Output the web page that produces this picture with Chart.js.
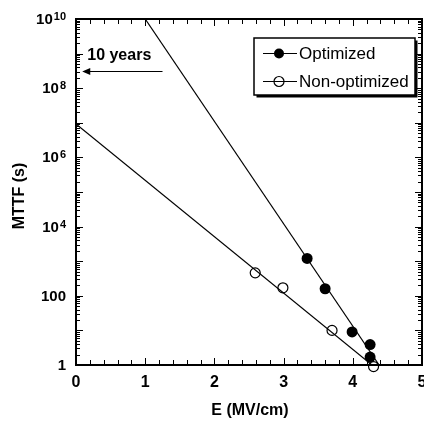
<!DOCTYPE html>
<html>
<head>
<meta charset="utf-8">
<script src="https://cdn.jsdelivr.net/npm/chart.js@4.4.1/dist/chart.umd.min.js"></script>
<style>
  html, body { margin: 0; padding: 0; background: #fff; overflow: hidden; }
  #wrap { width: 424px; height: 422px; position: relative; }
  canvas { display: block; }
</style>
</head>
<body>
<div id="wrap"><canvas id="mttf"></canvas></div>
<script>
// MTTF medido x campo elétrico (MV/cm)
const optE = [3.34, 3.60, 3.99, 4.25, 4.25];
const optMTTF = [1200, 160, 9, 3.9, 1.7];
const nonE = [2.59, 2.99, 3.70, 4.30];
const nonMTTF = [460, 170, 10, 0.9];

// extremos das retas de ajuste
const optFitE = [1.0, 4.38];
const optFitMTTF = [1e10, 1];
const nonFitE = [0, 4.4];
const nonFitMTTF = [9.3e6, 0.63];

// 10 anos em segundos, seta da marca
const tenYears = 3.156e8;
const arrowE = [1.25, 0.09];

const xTicks = [0, 1, 2, 3, 4, 5];
const yTicks = [1, 100, 1e4, 1e6, 1e8, 1e10];
const yTickBase = ['1', '100', '10', '10', '10', '10'];
const yTickExp = ['', '', '4', '6', '8', '10'];

const FONT = '"Liberation Sans", Arial, Helvetica, sans-serif';

function pares(xs, ys) {
    return xs.map((v, i) => ({ x: v, y: ys[i] }));
}

// moldura, ticks para dentro, rótulos com expoente, legenda e seta
const moldura = {
    id: 'moldura',
    afterDraw(chart) {
        const { ctx, chartArea: a } = chart;
        const x = chart.scales.x;
        const y = chart.scales.y;
        const linha = (x1, y1, x2, y2) => {
            ctx.beginPath();
            ctx.moveTo(x1, y1);
            ctx.lineTo(x2, y2);
            ctx.stroke();
        };

        ctx.save();
        ctx.strokeStyle = '#000';
        ctx.fillStyle = '#000';
        ctx.lineWidth = 1;

        // eixo y: décadas + subdivisões 2..9
        for (let d = 0; d <= 10; d++) {
            for (let k = 1; k <= 9; k++) {
                if (d === 10 && k > 1) break;
                const py = Math.round(y.getPixelForValue(k * Math.pow(10, d))) + 0.5;
                const len = k === 1 ? 7 : 4;
                linha(a.left, py, a.left + len, py);
                linha(a.right, py, a.right - len, py);
            }
        }
        // eixo x: a cada 0.2
        for (let i = 0; i <= 25; i++) {
            const px = Math.round(x.getPixelForValue(i * 0.2)) + 0.5;
            const len = i % 5 === 0 ? 7 : 5;
            linha(px, a.bottom, px, a.bottom - len);
            linha(px, a.top, px, a.top + len);
        }

        ctx.lineWidth = 2;
        ctx.strokeRect(a.left, a.top, a.right - a.left, a.bottom - a.top);

        // rótulos do eixo x
        ctx.font = `bold 16px ${FONT}`;
        ctx.textAlign = 'center';
        ctx.textBaseline = 'alphabetic';
        xTicks.forEach((v) => {
            ctx.fillText(String(v), x.getPixelForValue(v), a.bottom + 22);
        });

        // rótulos do eixo y (10 com expoente)
        yTicks.forEach((v, i) => {
            const py = y.getPixelForValue(v);
            const right = a.left - 10;
            ctx.textAlign = 'right';
            if (yTickExp[i]) {
                ctx.font = `bold 11px ${FONT}`;
                const w = ctx.measureText(yTickExp[i]).width;
                ctx.fillText(yTickExp[i], right, py + 1);
                ctx.font = `bold 15px ${FONT}`;
                ctx.fillText(yTickBase[i], right - w - 1, py + 5);
            } else {
                ctx.font = `bold 15px ${FONT}`;
                ctx.fillText(yTickBase[i], right, py + 5);
            }
        });

        // títulos dos eixos
        ctx.font = `bold 16px ${FONT}`;
        ctx.textAlign = 'center';
        ctx.fillText('E (MV/cm)', (a.left + a.right) / 2 + 1, a.bottom + 50);
        ctx.save();
        ctx.translate(24, (a.top + a.bottom) / 2 + 4);
        ctx.rotate(-Math.PI / 2);
        ctx.fillText('MTTF (s)', 0, 0);
        ctx.restore();

        // seta de 10 anos
        const ay = Math.round(y.getPixelForValue(tenYears)) + 0.5;
        const x0 = x.getPixelForValue(arrowE[0]);
        const x1 = x.getPixelForValue(arrowE[1]);
        ctx.lineWidth = 1.2;
        linha(x0, ay, x1 + 7, ay);
        ctx.beginPath();
        ctx.moveTo(x1, ay);
        ctx.lineTo(x1 + 8, ay - 3.5);
        ctx.lineTo(x1 + 8, ay + 3.5);
        ctx.closePath();
        ctx.fill();
        ctx.font = `bold 16px ${FONT}`;
        ctx.textAlign = 'left';
        ctx.fillText('10 years', x1 + 5, ay - 12);

        // legenda com sombra
        const bx = 254, by = 38, bw = 161, bh = 57;
        ctx.fillRect(bx + 2.5, by + 2.5, bw, bh);
        ctx.fillStyle = '#fff';
        ctx.fillRect(bx, by, bw, bh);
        ctx.fillStyle = '#000';
        ctx.lineWidth = 1.5;
        ctx.strokeRect(bx, by, bw, bh);

        ctx.font = `17px ${FONT}`;
        ctx.lineWidth = 1.2;
        chart.data.datasets.slice(0, 2).forEach((ds, i) => {
            const ly = 53 + i * 28;
            linha(263, ly + 0.5, 297, ly + 0.5);
            ctx.beginPath();
            ctx.arc(279, ly + 0.5, 5, 0, Math.PI * 2);
            if (ds.backgroundColor !== 'rgba(0,0,0,0)') {
                ctx.fill();
            } else {
                ctx.stroke();
            }
            ctx.fillText(ds.label, 299, ly + 6);
        });

        ctx.restore();
    }
};

new Chart(document.getElementById('mttf'), {
    type: 'scatter',
    data: {
        datasets: [
            {
                label: 'Optimized',
                data: pares(optE, optMTTF),
                pointRadius: 5.5,
                backgroundColor: '#000',
                borderColor: '#000',
                borderWidth: 0,
                clip: false
            },
            {
                label: 'Non-optimized',
                data: pares(nonE, nonMTTF),
                pointRadius: 5,
                backgroundColor: 'rgba(0,0,0,0)',
                borderColor: '#000',
                borderWidth: 1.2,
                clip: false
            },
            {
                label: 'ajuste opt',
                data: pares(optFitE, optFitMTTF),
                showLine: true,
                pointRadius: 0,
                borderColor: '#000',
                borderWidth: 1.2
            },
            {
                label: 'ajuste non',
                data: pares(nonFitE, nonFitMTTF),
                showLine: true,
                pointRadius: 0,
                borderColor: '#000',
                borderWidth: 1.2
            }
        ]
    },
    options: {
        responsive: true,
        maintainAspectRatio: false,
        devicePixelRatio: 1,
        animation: false,
        layout: {
            // sem autoPadding para a área do gráfico ficar fixa
            autoPadding: false,
            padding: { left: 76, top: 19, right: 2, bottom: 57 }
        },
        scales: {
            x: { type: 'linear', min: 0, max: 5, display: false },
            y: { type: 'logarithmic', min: 1, max: 1e10, display: false }
        },
        plugins: {
            legend: { display: false },
            tooltip: { enabled: false }
        }
    },
    plugins: [moldura]
});
</script>
</body>
</html>
